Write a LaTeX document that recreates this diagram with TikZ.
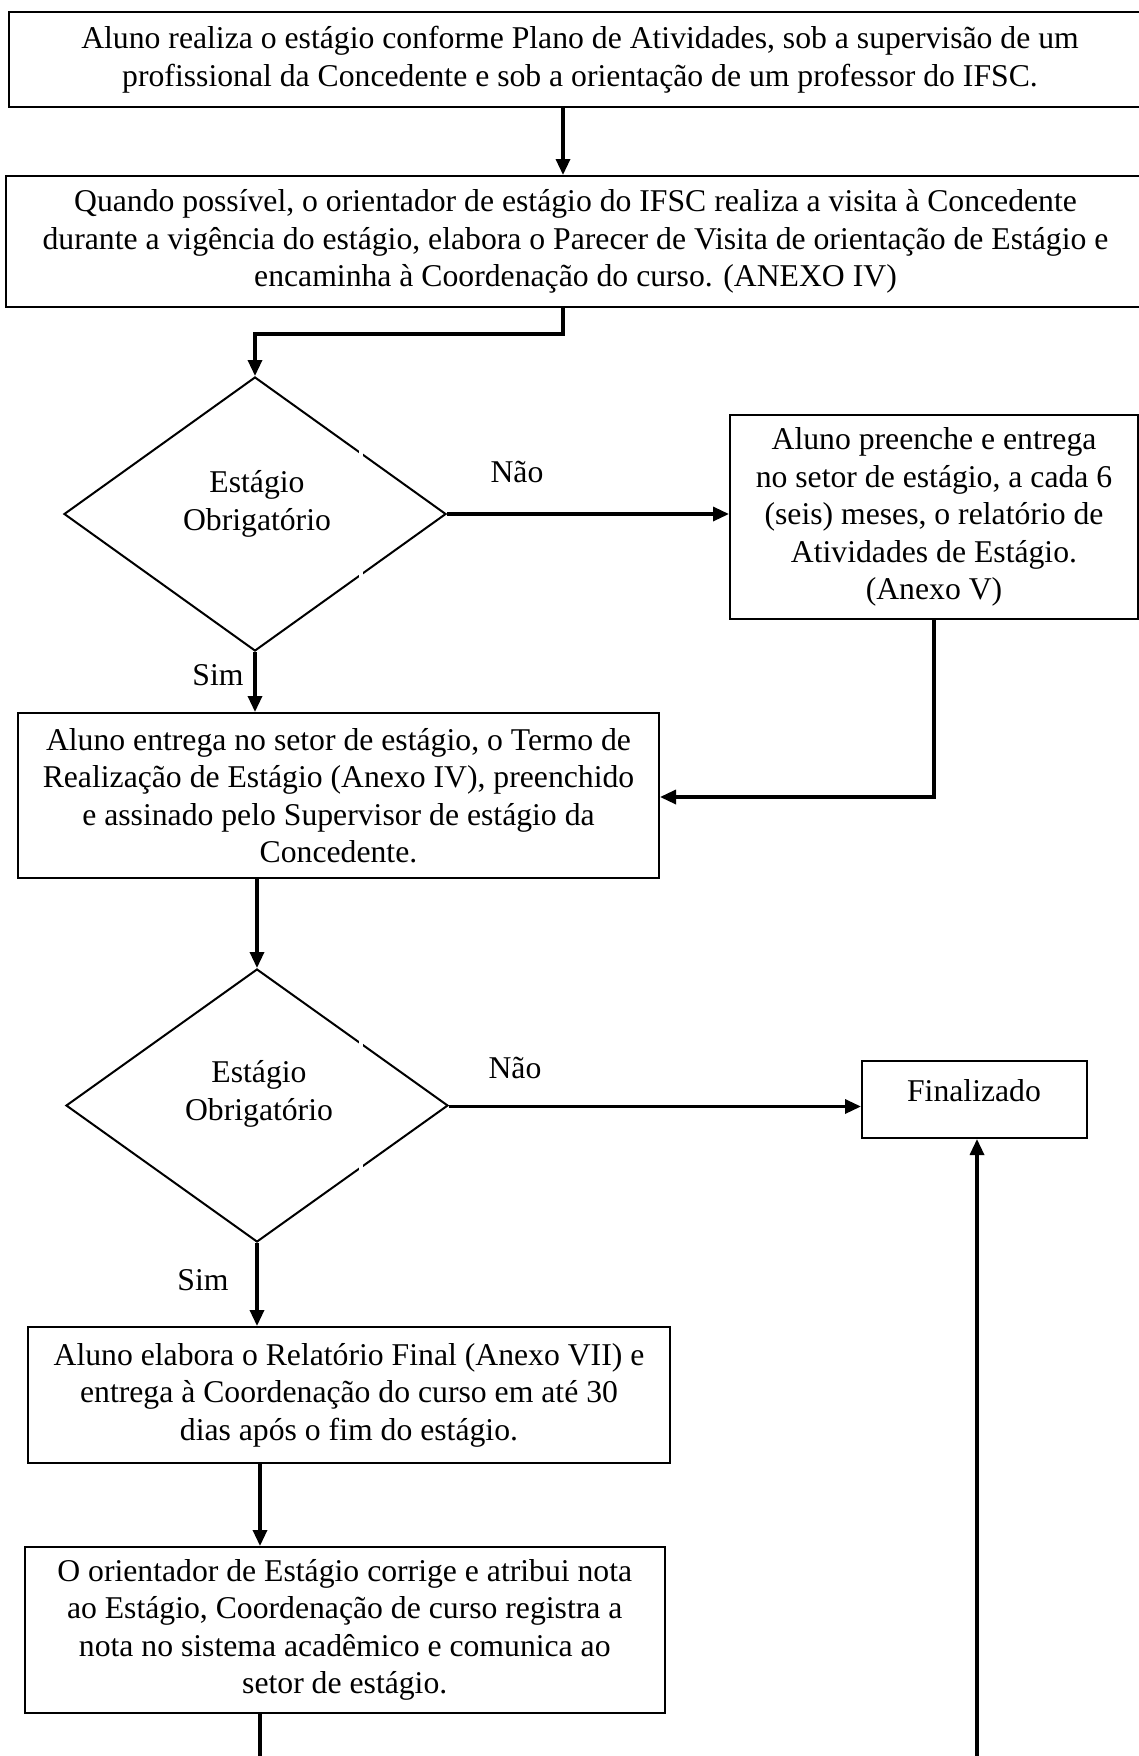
\documentclass[tikz,border=0pt]{standalone}
\usepackage{fontspec}
\setmainfont{Liberation Serif}
\usetikzlibrary{shapes.geometric,arrows.meta,calc}
\newcommand\diagfont{\fontsize{15.85pt}{18.75pt}\selectfont}
\tikzset{
  box/.style={draw, line width=1pt, rectangle, align=center, inner sep=0pt, font=\diagfont},
  dec/.style={draw, line width=1pt, shape=diamond, inner sep=0pt, aspect=1.4},
  txt/.style={align=center, inner sep=0pt, font=\diagfont},
  conn/.style={line width=1.65pt},
  arr/.style={line width=1.65pt, -{Triangle[length=8pt,width=7pt]}},
}
\begin{document}
\begin{tikzpicture}[x=0.5pt,y=-0.5pt]
\fill[white] (0,0) rectangle (1139,1756);
\useasboundingbox (0,0) rectangle (1139,1756);

% boxes
\node[box, minimum width=571pt, minimum height=47.5pt] (b1) at (580,59.5)
  {Aluno realiza o estágio conforme Plano de Atividades, sob a supervisão de um\\profissional da Concedente e sob a orientação de um professor do IFSC.};
\node[box, minimum width=569.5pt, minimum height=65.5pt] (b2) at (575.5,241.5)
  {Quando possível, o orientador de estágio do IFSC realiza a visita à Concedente\\durante a vigência do estágio, elabora o Parecer de Visita de orientação de Estágio e\\encaminha à Coordenação do curso. (ANEXO IV)};
\node[dec, minimum width=191pt, minimum height=137pt] (d1) at (255,514) {};
\node[txt] (d1t) at (257,504) {Estágio\\Obrigatório};
\node[box, minimum width=204pt, minimum height=102pt] (b3) at (934,517)
  {Aluno preenche e entrega\\no setor de estágio, a cada 6\\(seis) meses, o relatório de\\Atividades de Estágio.\\(Anexo V)};
\node[box, minimum width=320.5pt, minimum height=82.5pt] (b4) at (338.5,795.5)
  {Aluno entrega no setor de estágio, o Termo de\\Realização de Estágio (Anexo IV), preenchido\\e assinado pelo Supervisor de estágio da\\Concedente.};
\node[dec, minimum width=191pt, minimum height=136.5pt] (d2) at (257,1105.5) {};
\node[txt] (d2t) at (259,1094) {Estágio\\Obrigatório};
\node[box, minimum width=112.5pt, minimum height=38.5pt] (fin) at (974.5,1099.5) {};
\node[txt] (fint) at (974,1091) {Finalizado};
\node[box, minimum width=321pt, minimum height=68pt] (b5) at (349,1395)
  {Aluno elabora o Relatório Final (Anexo VII) e\\entrega à Coordenação do curso em até 30\\dias após o fim do estágio.};
\node[box, minimum width=320.25pt, minimum height=83pt] (b6) at (344.75,1630)
  {O orientador de Estágio corrige e atribui nota\\ao Estágio, Coordenação de curso registra a\\nota no sistema acadêmico e comunica ao\\setor de estágio.};

% small white gaps on the diamonds' right edges
\fill[white] (359,447) rectangle (363,459);
\fill[white] (359,569) rectangle (363,581);
\fill[white] (359,1037) rectangle (363,1049);
\fill[white] (359,1162) rectangle (363,1174);

% labels
\node[txt] (nao1) at (517,472) {Não};
\node[txt] (sim1) at (218,675) {Sim};
\node[txt] (nao2) at (515,1068) {Não};
\node[txt] (sim2) at (203,1280) {Sim};

% helper coordinates
\coordinate (c1) at (563,0);
\coordinate (c3) at (260,0);
\coordinate (bot) at (0,1770);

% connectors
\draw[arr] (b1.south -| c1) -- (b2.north -| c1);
\draw[arr] (b2.south -| c1) -- ++(0,26) -| (d1.north);
\draw[arr] (d1.east) -- (b3.west |- d1.east);
\draw[arr] (b3.south) |- ($(b4.east)+(0,1.5)$);
\draw[arr] (d1.south) -- (b4.north -| d1.south);
\draw[arr] (b4.south -| d2.north) -- (d2.north);
\draw[arr] ($(d2.east)+(0,1)$) -- ($(fin.west |- d2.east)+(0,1)$);
\draw[arr] (d2.south) -- (b5.north -| d2.south);
\draw[arr] (b5.south -| c3) -- (b6.north -| c3);
\draw[conn] (b6.south -| c3) -- (c3 |- bot);
\draw[arr] ($(fin.south |- bot)+(2.5,0)$) -- ($(fin.south)+(2.5,0)$);
\end{tikzpicture}
\end{document}
